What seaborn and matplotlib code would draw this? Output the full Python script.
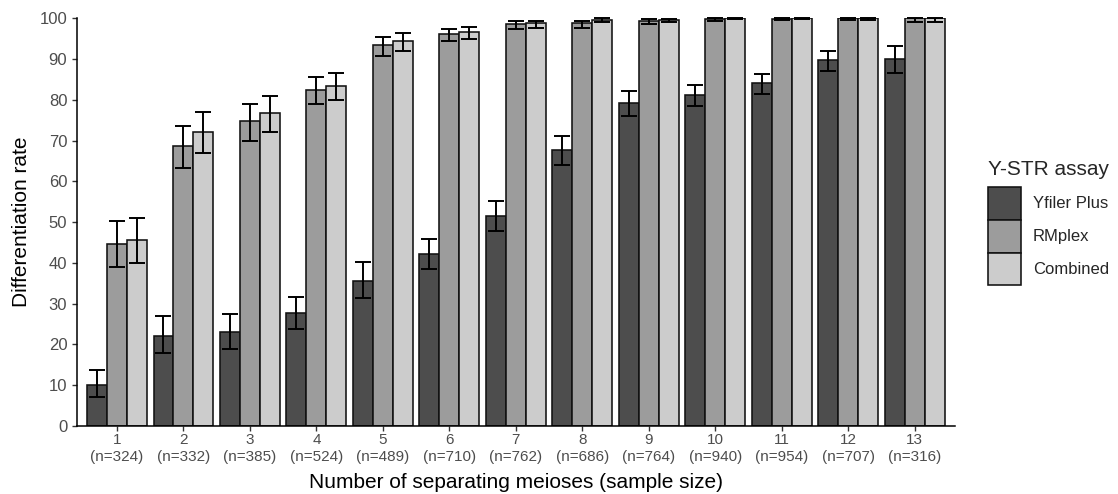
import numpy as np
import pandas as pd
import matplotlib
matplotlib.use("Agg")
import matplotlib.pyplot as plt
import seaborn as sns

meioses = ["1", "2", "3", "4", "5", "6", "7", "8", "9", "10", "11", "12", "13"]
sample_sizes = [324, 332, 385, 524, 489, 710, 762, 686, 764, 940, 954, 707, 316]
assays = ["Yfiler Plus", "RMplex", "Combined"]

yfiler = [10.0, 22.0, 23.0, 27.6, 35.6, 42.1, 51.5, 67.6, 79.2, 81.2, 84.1, 89.7, 90.1]
yfiler_lo = [7.0, 17.8, 18.8, 23.8, 31.4, 38.5, 47.8, 64.0, 76.1, 78.4, 81.5, 87.1, 86.6]
yfiler_hi = [13.8, 27.0, 27.5, 31.7, 40.1, 45.9, 55.1, 71.1, 82.2, 83.6, 86.3, 91.9, 93.2]

rmplex = [44.6, 68.7, 74.7, 82.4, 93.4, 96.1, 98.5, 98.8, 99.3, 99.8, 99.9, 100.0, 100.0]
rmplex_lo = [39.0, 63.2, 70.0, 78.9, 90.8, 94.4, 97.3, 97.5, 98.5, 99.3, 99.6, 99.7, 99.0]
rmplex_hi = [50.2, 73.5, 79.0, 85.6, 95.5, 97.4, 99.3, 99.4, 99.8, 100.0, 100.0, 100.0, 100.0]

combined = [45.6, 72.1, 76.8, 83.4, 94.4, 96.6, 98.8, 99.6, 99.6, 100.0, 100.0, 100.0, 100.0]
combined_lo = [39.9, 66.9, 72.2, 79.9, 92.0, 95.0, 97.6, 99.2, 99.2, 99.9, 99.9, 99.7, 99.0]
combined_hi = [51.1, 76.9, 80.9, 86.6, 96.3, 97.9, 99.4, 100.0, 99.9, 100.0, 100.0, 100.0, 100.0]

colors = ["#4D4D4D", "#9C9C9C", "#CCCCCC"]

values = {"Yfiler Plus": (yfiler, yfiler_lo, yfiler_hi),
          "RMplex": (rmplex, rmplex_lo, rmplex_hi),
          "Combined": (combined, combined_lo, combined_hi)}

rows = []
for a in assays:
    v, lo, hi = values[a]
    for m, val in zip(meioses, v):
        rows.append({"meioses": m, "assay": a, "rate": val})
df = pd.DataFrame(rows)

sns.set_theme(style="ticks")
plt.rcParams["font.family"] = ["Liberation Sans", "DejaVu Sans"]

fig = plt.figure(figsize=(11.18, 4.94), dpi=100)
ax = fig.add_axes([0.0689, 0.138, 0.854 - 0.0689, 0.963 - 0.138])

sns.barplot(data=df, x="meioses", y="rate", hue="assay", order=meioses,
            hue_order=assays, palette=colors, width=0.9, gap=0,
            edgecolor="#111111", linewidth=1.15, errorbar=None, ax=ax,
            legend=True)

for cont, a in zip(ax.containers, assays):
    v, lo, hi = values[a]
    xs = [p.get_x() + p.get_width() / 2 for p in cont.patches]
    v = np.array(v); lo = np.array(lo); hi = np.array(hi)
    ax.errorbar(xs, v, yerr=[v - lo, hi - v], fmt="none", ecolor="black",
                elinewidth=1.4, capsize=5.5, capthick=1.4, clip_on=False, zorder=5)

ax.set_xlim(-0.6, len(meioses) - 0.4)
ax.set_ylim(0, 100)
ax.set_yticks(np.arange(0, 101, 10))
ax.set_xticks(range(len(meioses)))
ax.set_xticklabels([f"{m}\n(n={n})" for m, n in zip(meioses, sample_sizes)],
                   fontsize=11, color="#4D4D4D", linespacing=1.25)
ax.tick_params(axis="y", labelsize=12, labelcolor="#4D4D4D", length=3.5, width=1, color="#333333")
ax.tick_params(axis="x", length=3.5, width=1, color="#333333", pad=2)
for s in ["top", "right"]:
    ax.spines[s].set_visible(False)
for s in ["left", "bottom"]:
    ax.spines[s].set_linewidth(1.1)
    ax.spines[s].set_color("black")

ax.set_xlabel("Number of separating meioses (sample size)", fontsize=15, color="black", labelpad=6)
ax.set_ylabel("Differentiation rate", fontsize=15, color="black", labelpad=6)

handles, labels = ax.get_legend_handles_labels()
ax.get_legend().remove()
fig.text(988 / 1118, 1 - 175 / 494, "Y-STR assay", fontsize=15, ha="left", va="baseline")
leg = fig.legend(handles, labels, loc="upper left",
                 bbox_to_anchor=(988 / 1118, 1 - 187 / 494), frameon=False, fontsize=12,
                 handlelength=2.0, handleheight=2.65,
                 labelspacing=0.0, handletextpad=0.7, borderpad=0, borderaxespad=0)

fig.savefig("out.png", dpi=100)
